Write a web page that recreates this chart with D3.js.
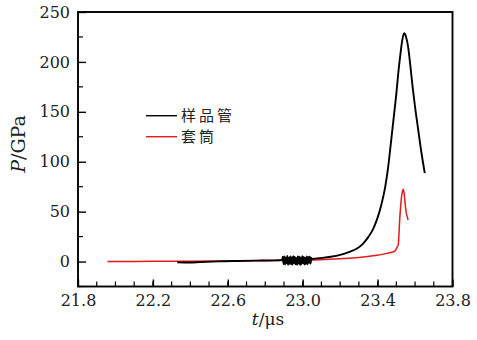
<!DOCTYPE html>
<html>
<head>
<meta charset="utf-8">
<script src="https://cdn.jsdelivr.net/npm/d3@7/dist/d3.min.js"></script>
<style>
  html, body { margin: 0; padding: 0; background: #fff; }
  svg { display: block; }
  .tick text { font-family: "DejaVu Serif", serif; font-size: 16px; fill: #222; }
</style>
</head>
<body>
<svg id="chart" width="477" height="340"></svg>
<script>
// Sample tube pressure (black): smooth parts
const tubeT = [22.33, 22.40, 22.45, 22.55, 22.65, 22.75, 22.85, 22.888];
const tubeP = [-0.8, -1.0, -0.6, 0.2, 0.6, 0.9, 1.2, 1.5];
// Noisy stretch of the tube record
const noiseT = [22.890, 22.894, 22.898, 22.902, 22.906, 22.910, 22.914, 22.918, 22.922, 22.926,
                22.930, 22.934, 22.938, 22.942, 22.946, 22.950, 22.954, 22.958, 22.962, 22.966,
                22.970, 22.974, 22.978, 22.982, 22.986, 22.990, 22.994, 22.998, 23.002, 23.006,
                23.010, 23.014, 23.018, 23.022, 23.026, 23.030, 23.034, 23.038, 23.042, 23.046, 23.050];
const noiseP = [1.5, 4.8, -2.6, 5.2, -3.0, 4.1, -1.8, 5.6, -3.3, 3.9,
                -2.2, 5.0, -2.9, 4.4, -3.1, 5.3, -1.6, 4.7, -2.8, 3.6,
                -3.2, 5.1, -2.0, 4.9, -3.4, 4.2, -2.5, 5.4, -1.9, 4.6,
                -3.0, 3.8, -2.3, 5.2, -2.7, 4.5, -1.4, 4.9, -2.1, 3.7, 2.4];
// Rise, peak and release of the tube pressure
const peakT = [23.056, 23.09, 23.15, 23.20, 23.25, 23.29, 23.32, 23.35, 23.376, 23.40, 23.42,
               23.44, 23.456, 23.474, 23.49, 23.50, 23.51, 23.522, 23.532, 23.542, 23.552,
               23.563, 23.575, 23.587, 23.60, 23.617, 23.635, 23.652];
const peakP = [2.7, 3.4, 4.8, 6.7, 9.8, 13.0, 17.5, 24.5, 32.5, 44, 57,
               74, 94, 124, 151, 168, 188, 208, 222, 228.7, 225,
               215, 196, 175, 155, 131.8, 108, 88.5];

// Sleeve pressure (red)
const sleeveT = [21.957, 22.1, 22.3, 22.5, 22.7, 22.9, 23.0, 23.092, 23.2, 23.3, 23.387, 23.45,
                 23.48, 23.492, 23.50, 23.51, 23.519, 23.528, 23.533, 23.537, 23.542, 23.547,
                 23.552, 23.558, 23.563];
const sleeveP = [0.0, 0.1, 0.3, 0.5, 0.8, 1.1, 1.5, 1.9, 2.8, 4.0, 6.0, 8.2,
                 9.5, 10.5, 13, 16.7, 45, 65, 70.5, 72.5, 68, 58,
                 50, 45, 41.7];

const xTicks = [21.8, 22.2, 22.6, 23.0, 23.4, 23.8];
const yTicks = [0, 50, 100, 150, 200, 250];
const seriesNames = ["样品管", "套筒"];

const W = 477, H = 340;
const margin = { left: 78, top: 12, right: 24.5, bottom: 53.5 };
const iw = W - margin.left - margin.right;
const ih = H - margin.top - margin.bottom;

const svg = d3.select("#chart");
const g = svg.append("g").attr("transform", `translate(${margin.left},${margin.top})`);

const x = d3.scaleLinear().domain([21.8, 23.8]).range([0, iw]);
const y = d3.scaleLinear().domain([-25, 250]).range([ih, 0]);

const zip = (ts, ps) => ts.map((t, i) => [t, ps[i]]);
const tube = zip(tubeT, tubeP).concat(zip(noiseT, noiseP), zip(peakT, peakP));
const sleeve = zip(sleeveT, sleeveP);

const line = d3.line().x(d => x(d[0])).y(d => y(d[1])).curve(d3.curveMonotoneX);

g.append("path").datum(sleeve)
  .attr("fill", "none").attr("stroke", "#e41a1c").attr("stroke-width", 1.5)
  .attr("d", line);
g.append("path").datum(tube)
  .attr("fill", "none").attr("stroke", "#000").attr("stroke-width", 1.9)
  .attr("d", line);

// Minor ticks (inward)
const xMinor = d3.range(21.8, 23.81, 0.1);
g.append("g").selectAll("line").data(xMinor).join("line")
  .attr("x1", d => x(d)).attr("x2", d => x(d))
  .attr("y1", ih).attr("y2", ih - 5)
  .attr("stroke", "#000").attr("stroke-width", 1.2);
const yMinor = [-25, 25, 75, 125, 175, 225];
g.append("g").selectAll("line").data(yMinor).join("line")
  .attr("x1", 0).attr("x2", 5)
  .attr("y1", d => y(d)).attr("y2", d => y(d))
  .attr("stroke", "#000").attr("stroke-width", 1.2);

// Axes with inward major ticks
const xAxis = g.append("g").attr("transform", `translate(0,${ih})`)
  .call(d3.axisBottom(x).tickValues(xTicks).tickFormat(d3.format(".1f")).tickSize(-7).tickPadding(7));
const yAxis = g.append("g")
  .call(d3.axisLeft(y).tickValues(yTicks).tickSize(-8).tickPadding(8));
[xAxis, yAxis].forEach(a => {
  a.select(".domain").remove();
  a.selectAll(".tick line").attr("stroke", "#000").attr("stroke-width", 1.4);
});
xAxis.selectAll(".tick text").attr("dy", "0.8em");

// Frame
g.append("rect").attr("x", 0).attr("y", 0).attr("width", iw).attr("height", ih)
  .attr("fill", "none").attr("stroke", "#000").attr("stroke-width", 1.9);

// Legend
const legend = svg.append("g");
const legendItems = [{ name: seriesNames[0], color: "#000", yy: 115.7 },
                     { name: seriesNames[1], color: "#e41a1c", yy: 136.7 }];
legendItems.forEach(it => {
  legend.append("line").attr("x1", 146).attr("x2", 177).attr("y1", it.yy).attr("y2", it.yy)
    .attr("stroke", it.color).attr("stroke-width", 1.4);
  legend.append("text").attr("x", 181).attr("y", it.yy).attr("dy", "0.33em")
    .attr("font-family", "Noto Sans CJK SC").attr("font-size", 15)
    .attr("letter-spacing", 3).attr("fill", "#222")
    .text(it.name);
});

// Axis titles
const xt = svg.append("text").attr("x", 268).attr("y", 325).attr("text-anchor", "middle")
  .attr("font-family", "DejaVu Serif").attr("font-size", 17).attr("fill", "#222");
xt.append("tspan").attr("font-style", "italic").text("t");
xt.append("tspan").text("/μs");

const yt = svg.append("text").attr("transform", "translate(25,144) rotate(-90)")
  .attr("text-anchor", "middle")
  .attr("font-family", "DejaVu Serif").attr("font-size", 19).attr("fill", "#222");
yt.append("tspan").attr("font-style", "italic").text("P");
yt.append("tspan").text("/GPa");
</script>
</body>
</html>
